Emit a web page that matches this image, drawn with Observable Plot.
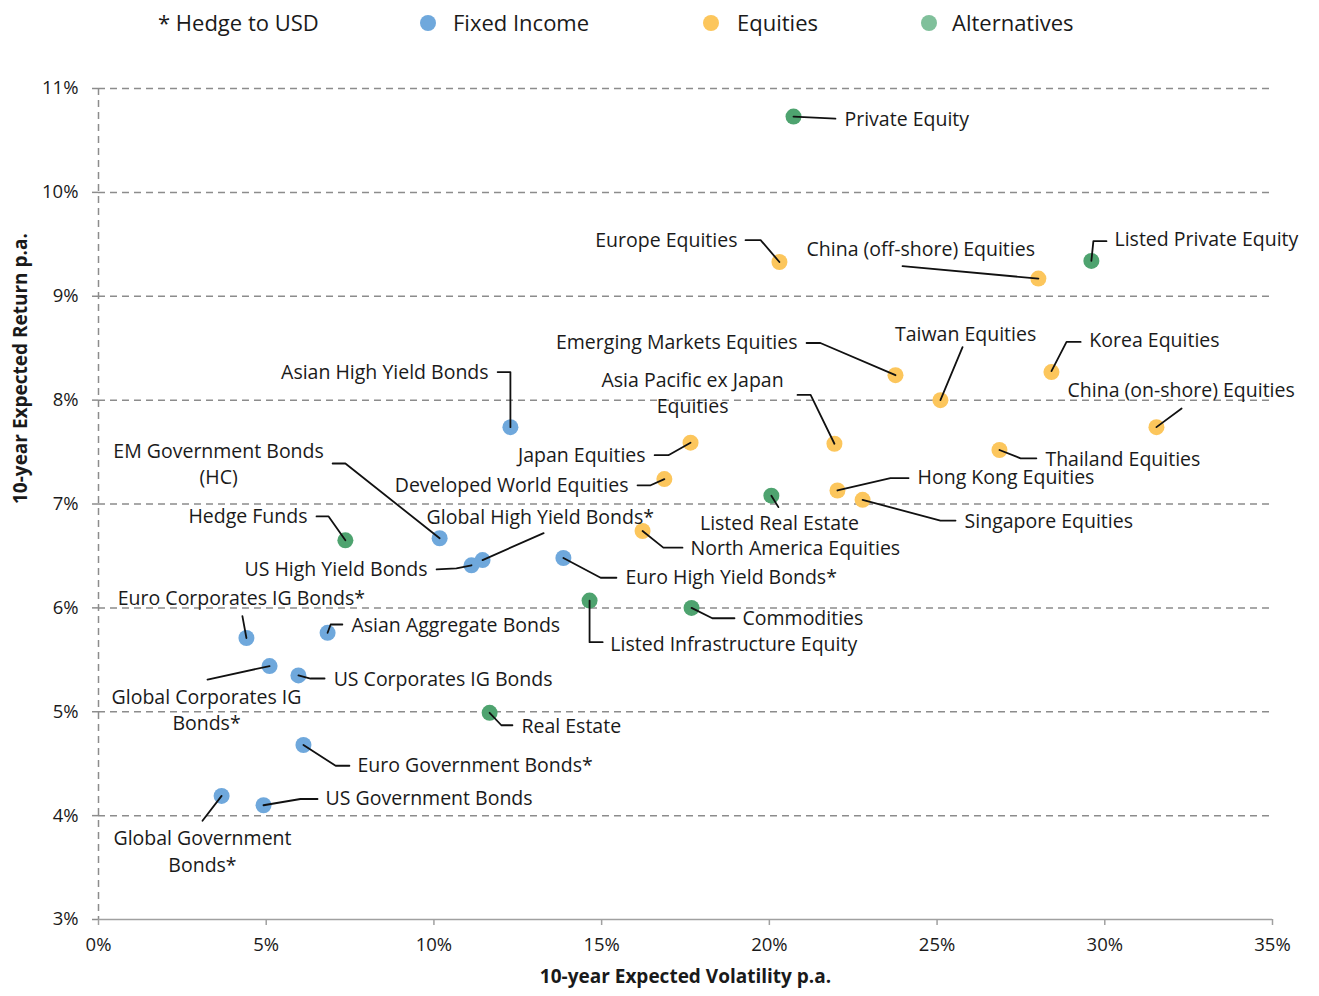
<!DOCTYPE html>
<html><head><meta charset="utf-8">
<script src="https://cdn.jsdelivr.net/npm/d3@7"></script>
<script src="https://cdn.jsdelivr.net/npm/@observablehq/plot@0.6"></script>
<style>
body{margin:0;background:#fff;font-family:"Open Sans",sans-serif;color:#1a1a1a;}
#legend{position:relative;height:50px;width:1319px;font-size:22px;}
#legend .t{position:absolute;top:8px;line-height:28px;white-space:nowrap;}
#legend .d{position:absolute;top:15px;width:16px;height:16px;border-radius:50%;}
</style></head>
<body>
<div id="legend"></div>
<div id="chart"></div>
<script>
// ---- data ----
const names = ["Private Equity","Europe Equities","China (off-shore) Equities","Listed Private Equity",
 "Emerging Markets Equities","Taiwan Equities","Korea Equities","China (on-shore) Equities",
 "Asia Pacific ex Japan\nEquities","Japan Equities","Thailand Equities","Developed World Equities",
 "Hong Kong Equities","Singapore Equities","Listed Real Estate","North America Equities",
 "Asian High Yield Bonds","EM Government Bonds\n(HC)","Hedge Funds","Global High Yield Bonds*",
 "US High Yield Bonds","Euro High Yield Bonds*","Listed Infrastructure Equity","Commodities",
 "Euro Corporates IG Bonds*","Asian Aggregate Bonds","Global Corporates IG\nBonds*","US Corporates IG Bonds",
 "Real Estate","Euro Government Bonds*","Global Government\nBonds*","US Government Bonds"];
const volatility = [20.72,20.30,28.02,29.60, 23.76,25.10,28.41,31.54, 21.94,17.65,26.86,16.87,
 22.03,22.78,20.06,16.22, 12.28,10.17,7.36,11.45, 11.12,13.86,14.64,17.68,
 4.41,6.83,5.10,5.96, 11.66,6.11,3.67,4.92];
const expectedReturn = [10.73,9.33,9.17,9.34, 8.24,8.00,8.27,7.74, 7.58,7.59,7.52,7.24,
 7.13,7.04,7.08,6.74, 7.74,6.67,6.65,6.46, 6.41,6.48,6.07,6.00,
 5.71,5.76,5.44,5.35, 4.99,4.68,4.19,4.10];
const assetClass = ["Alternatives","Equities","Equities","Alternatives",
 "Equities","Equities","Equities","Equities",
 "Equities","Equities","Equities","Equities",
 "Equities","Equities","Alternatives","Equities",
 "Fixed Income","Fixed Income","Alternatives","Fixed Income",
 "Fixed Income","Fixed Income","Alternatives","Alternatives",
 "Fixed Income","Fixed Income","Fixed Income","Fixed Income",
 "Alternatives","Fixed Income","Fixed Income","Fixed Income"];
// label anchor positions (data units) and alignment
const labelX = [22.24,19.05,21.11,30.29, 20.84,25.85,29.54,28.89, 17.71,16.31,28.23,15.80,
 24.42,25.82,20.30,17.65, 11.63,3.58,6.23,9.78, 9.81,15.71,15.26,19.20,
 4.26,7.54,3.22,7.01, 12.61,7.72,3.10,6.77];
const labelY = [10.70,9.54,9.45,9.55, 8.55,8.63,8.57,8.09, 8.06,7.47,7.43,7.18,
 7.25,6.83,6.81,6.57, 8.27,7.38,6.88,6.87, 6.37,6.29,5.65,5.90,
 6.09,5.83,5.01,5.31, 4.86,4.48,3.65,4.16];
const labelAlign = ["start","end","start","start", "end","middle","start","start",
 "middle","end","start","end", "start","start","middle","start",
 "end","middle","end","start", "end","start","start","start",
 "middle","start","middle","start", "start","start","middle","start"];
// leader lines (data units), point -> label
const leaders = [
 [[20.72,10.73],[21.97,10.71]],
 [[19.29,9.54],[19.74,9.54],[20.30,9.33]],
 [[23.97,9.29],[28.02,9.17]],
 [[29.60,9.34],[29.66,9.53],[30.05,9.53]],
 [[21.11,8.55],[21.52,8.55],[23.76,8.24]],
 [[25.76,8.51],[25.10,8.00]],
 [[28.41,8.28],[28.86,8.56],[29.28,8.56]],
 [[31.54,7.74],[32.29,7.92]],
 [[20.84,8.05],[21.23,8.05],[21.94,7.58]],
 [[16.58,7.47],[16.99,7.47],[17.65,7.59]],
 [[26.86,7.52],[27.49,7.44],[27.96,7.44]],
 [[16.07,7.18],[16.46,7.18],[16.87,7.24]],
 [[22.03,7.13],[23.61,7.25],[24.15,7.25]],
 [[22.78,7.04],[25.10,6.84],[25.55,6.84]],
 [[20.06,7.08],[20.27,6.97]],
 [[16.22,6.74],[16.84,6.58],[17.41,6.58]],
 [[11.90,8.27],[12.28,8.27],[12.28,7.74]],
 [[6.98,7.39],[7.36,7.39],[10.17,6.67]],
 [[6.50,6.88],[6.86,6.88],[7.36,6.65]],
 [[11.45,6.46],[13.27,6.72]],
 [[10.08,6.37],[10.67,6.38],[11.12,6.41]],
 [[13.86,6.48],[14.97,6.29],[15.44,6.29]],
 [[14.64,6.07],[14.64,5.67],[15.03,5.67]],
 [[17.68,6.00],[18.30,5.90],[18.96,5.90]],
 [[4.29,5.92],[4.41,5.71]],
 [[6.83,5.76],[6.92,5.84],[7.27,5.84]],
 [[3.25,5.31],[5.10,5.44]],
 [[5.96,5.35],[6.32,5.32],[6.74,5.32]],
 [[11.66,4.99],[12.01,4.87],[12.34,4.87]],
 [[6.11,4.68],[7.07,4.48],[7.48,4.48]],
 [[3.67,4.19],[3.10,3.95]],
 [[4.92,4.10],[6.02,4.16],[6.53,4.16]]
];
const xTicks = [0,5,10,15,20,25,30,35];
const yTicks = [3,4,5,6,7,8,9,10,11];
const classes = ["Fixed Income","Equities","Alternatives"];
const classColors = ["#6fa8dc","#fcc65c","#4ea36f"];
const legendColors = ["#6fa8dc","#fcc65c","#80c09b"];
const footnote = "* Hedge to USD";
const xTitle = "10-year Expected Volatility p.a.";
const yTitle = "10-year Expected Return p.a.";

// ---- tables ----
const points = names.map((n,i)=>({name:n, x:volatility[i], y:expectedReturn[i], cls:assetClass[i],
  lx:labelX[i], ly:labelY[i], align:labelAlign[i]}));
const leaderRows = leaders.flatMap((pts,i)=>pts.map(p=>({id:i, x:p[0], y:p[1]})));

// ---- legend ----
const lg = document.getElementById("legend");
const lpos = [[420,453],[703,737],[921,952]];
lg.innerHTML = `<span class="t" style="left:158px">${footnote}</span>` +
  classes.map((c,i)=>`<span class="d" style="left:${lpos[i][0]}px;background:${legendColors[i]}"></span>`+
  `<span class="t" style="left:${lpos[i][1]}px">${c}</span>`).join("");

const grid = {stroke:"#8c8c8c", strokeWidth:1.5, strokeDasharray:"7,5"};
const textStyle = {fontSize:19.5, fill:"#1a1a1a", lineHeight:1.35, dy:-2};

const chart = Plot.plot({
  width:1319, height:946,
  marginLeft:98, marginRight:47, marginTop:38, marginBottom:77,
  style:{fontFamily:"'Open Sans', sans-serif", fontSize:"18px", color:"#1a1a1a", background:"#fff"},
  x:{domain:[0,35], label:null},
  y:{domain:[3,11], label:null},
  color:{domain:classes, range:classColors},
  marks:[
    Plot.ruleY(yTicks.slice(1), grid),
    Plot.ruleX([0], grid),
    Plot.axisY({ticks:yTicks, tickFormat:d=>d+"%", tickSize:6, tickPadding:14, stroke:"#8c8c8c", strokeWidth:1.5, fontSize:18.5, label:null}),
    Plot.axisX({ticks:xTicks, tickFormat:d=>d+"%", tickSize:6, tickPadding:12, stroke:"#a0a0a0", strokeWidth:1.5, fontSize:18.5, label:null}),
    Plot.ruleY([3], {stroke:"#a0a0a0", strokeWidth:1.5}),
    Plot.dot(points, {x:"x", y:"y", fill:"cls", r:8}),
    Plot.line(leaderRows, {x:"x", y:"y", z:"id", stroke:"#111", strokeWidth:1.8, curve:"linear"}),
    ...["start","middle","end"].map(a => Plot.text(points.filter(d=>d.align===a),
      {x:"lx", y:"ly", text:"name", textAnchor:a, ...textStyle})),
    Plot.text([yTitle], {frameAnchor:"left", rotate:-90, dx:-78, fontWeight:"bold", fontSize:19, fill:"#1a1a1a"}),
    Plot.text([xTitle], {frameAnchor:"bottom", dy:63, fontWeight:"bold", fontSize:19, fill:"#1a1a1a"})
  ]
});
document.getElementById("chart").appendChild(chart);
</script>
</body></html>
